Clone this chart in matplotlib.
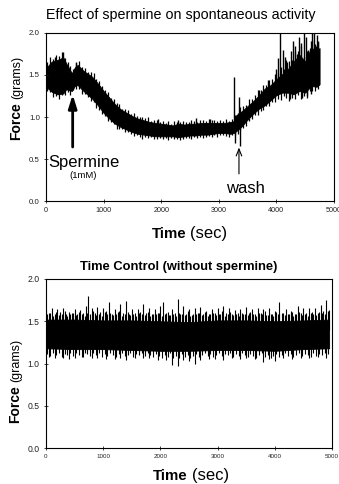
import matplotlib
matplotlib.use("Agg")
import matplotlib.pyplot as plt
import numpy as np

plt.rcParams['font.family'] = ['Liberation Sans', 'DejaVu Sans']

top_t = [0, 100, 200, 300, 350, 450, 500, 550, 650, 800, 900, 1000, 1100, 1200, 1300, 1400,
         1500, 1600, 1700, 1800, 1900, 2000, 2100, 2200, 2300, 2400, 2500, 2600, 2700, 2800,
         2900, 3000, 3100, 3200, 3260, 3300, 3400, 3500, 3600, 3700, 3800, 3900, 4000, 4100,
         4200, 4300, 4400, 4500, 4600, 4700, 4750]
top_upper = [1.58, 1.66, 1.68, 1.71, 1.64, 1.52, 1.59, 1.62, 1.55, 1.48, 1.40, 1.31, 1.23, 1.15, 1.09, 1.05,
             1.01, 0.98, 0.96, 0.94, 0.93, 0.92, 0.91, 0.90, 0.92, 0.91, 0.92, 0.92, 0.93, 0.93,
             0.93, 0.93, 0.93, 0.94, 0.95, 1.02, 1.07, 1.13, 1.19, 1.26, 1.34, 1.38, 1.45, 1.51,
             1.57, 1.66, 1.74, 1.66, 1.82, 1.80, 1.82]
top_lower = [1.36, 1.30, 1.27, 1.28, 1.33, 1.31, 1.37, 1.38, 1.31, 1.22, 1.14, 1.05, 0.98, 0.92, 0.88, 0.85,
             0.82, 0.80, 0.79, 0.78, 0.77, 0.77, 0.77, 0.77, 0.76, 0.77, 0.78, 0.78, 0.79, 0.79,
             0.80, 0.81, 0.81, 0.80, 0.81, 0.83, 0.89, 0.97, 1.04, 1.10, 1.14, 1.20, 1.26, 1.29,
             1.29, 1.27, 1.31, 1.29, 1.37, 1.36, 1.39]
top_spike_t = [150, 300, 520, 1950, 2300, 2600, 2850, 3270, 3280, 3350, 3360, 3700, 3850, 4000,
               4030, 4070, 4120, 4150, 4180, 4230, 4250, 4280, 4330, 4360, 4400, 4420, 4440, 4480,
               4520, 4525, 4550, 4600, 4605, 4620, 4650, 4680, 4700, 4730]
top_spike_v = [1.72, 1.77, 1.66, 0.98, 0.96, 0.99, 0.98, 1.48, 0.69, 1.24, 0.65, 1.32, 1.44, 1.57,
               1.70, 2.00, 1.80, 1.72, 1.65, 1.21, 1.78, 1.90, 1.85, 1.75, 1.95, 1.88, 1.23, 2.00,
               1.95, 1.25, 1.80, 1.90, 1.27, 2.00, 2.00, 1.85, 1.98, 1.90]
# fringe (noise) amplitudes above / below the band, every 50 s from 25 s
top_fringe_up = [0.05, 0.08, 0.03, 0.06, 0.04, 0.07, 0.03, 0.05, 0.06, 0.02, 0.04, 0.06, 0.03, 0.05, 0.02, 0.04, 0.06, 0.03, 0.05, 0.04,
                 0.03, 0.05, 0.02, 0.04, 0.03, 0.05, 0.02, 0.03, 0.04, 0.02, 0.05, 0.03, 0.02, 0.04, 0.03, 0.05, 0.02, 0.03, 0.04, 0.02,
                 0.03, 0.02, 0.04, 0.02, 0.05, 0.03, 0.02, 0.04, 0.03, 0.02, 0.05, 0.03, 0.02, 0.04, 0.03, 0.02, 0.05, 0.03, 0.04, 0.02,
                 0.03, 0.02, 0.04, 0.02, 0.03, 0.05, 0.02, 0.06, 0.04, 0.03, 0.07, 0.04, 0.05, 0.08, 0.04, 0.06, 0.03, 0.07, 0.05, 0.08,
                 0.06, 0.10, 0.05, 0.12, 0.08, 0.04, 0.10, 0.06, 0.12, 0.05, 0.09, 0.04, 0.10, 0.06, 0.08]
top_fringe_dn = [0.04, 0.02, 0.05, 0.03, 0.06, 0.02, 0.04, 0.03, 0.05, 0.02, 0.04, 0.03, 0.05, 0.02, 0.03, 0.04, 0.02, 0.05, 0.03, 0.04,
                 0.02, 0.04, 0.03, 0.02, 0.05, 0.03, 0.02, 0.04, 0.02, 0.03, 0.04, 0.02, 0.03, 0.05, 0.02, 0.03, 0.02, 0.04, 0.03, 0.02,
                 0.03, 0.02, 0.04, 0.02, 0.03, 0.02, 0.04, 0.03, 0.02, 0.03, 0.04, 0.02, 0.03, 0.02, 0.04, 0.03, 0.02, 0.03, 0.02, 0.04,
                 0.03, 0.02, 0.03, 0.04, 0.02, 0.03, 0.05, 0.03, 0.04, 0.06, 0.04, 0.05, 0.03, 0.06, 0.04, 0.05, 0.03, 0.06, 0.04, 0.07,
                 0.05, 0.08, 0.04, 0.06, 0.10, 0.05, 0.07, 0.04, 0.09, 0.05, 0.08, 0.04, 0.06, 0.05, 0.04]

# ---------------- Bottom panel: time control
bot_t = [0, 500, 1000, 1500, 2000, 2500, 3000, 3500, 4000, 4500, 4950]
bot_upper = [1.52, 1.52, 1.51, 1.51, 1.50, 1.49, 1.51, 1.51, 1.50, 1.51, 1.52]
bot_lower = [1.18, 1.17, 1.17, 1.16, 1.15, 1.15, 1.16, 1.16, 1.15, 1.17, 1.18]
bot_up_t = [0, 50, 100, 150, 200, 250, 300, 350, 400, 450, 500, 550, 600, 650, 700, 743, 800, 850,
            900, 950, 1000, 1050, 1100, 1150, 1200, 1250, 1300, 1350, 1400, 1450, 1500, 1550, 1600,
            1650, 1700, 1750, 1800, 1850, 1900, 1950, 2000, 2050, 2100, 2150, 2200, 2250, 2300, 2350,
            2400, 2450, 2500, 2550, 2600, 2650, 2700, 2750, 2800, 2850, 2900, 2950, 3000, 3050, 3100,
            3150, 3200, 3250, 3300, 3350, 3400, 3450, 3500, 3550, 3600, 3650, 3700, 3750, 3800, 3850,
            3900, 3950, 4000, 4050, 4080, 4150, 4200, 4250, 4300, 4350, 4400, 4450, 4500, 4550, 4600,
            4650, 4700, 4750, 4800, 4850, 4900, 4950]
bot_up_v = [1.63, 1.60, 1.66, 1.59, 1.64, 1.61, 1.66, 1.58, 1.61, 1.60, 1.65, 1.59, 1.63, 1.60, 1.68,
            1.80, 1.66, 1.60, 1.67, 1.61, 1.66, 1.62, 1.73, 1.58, 1.64, 1.61, 1.71, 1.60, 1.74, 1.59,
            1.64, 1.60, 1.65, 1.61, 1.71, 1.60, 1.66, 1.58, 1.64, 1.60, 1.68, 1.73, 1.60, 1.57, 1.64,
            1.60, 1.76, 1.59, 1.68, 1.58, 1.65, 1.57, 1.66, 1.60, 1.67, 1.58, 1.62, 1.59, 1.65, 1.60,
            1.66, 1.58, 1.68, 1.60, 1.66, 1.59, 1.63, 1.60, 1.65, 1.58, 1.67, 1.60, 1.64, 1.58, 1.66,
            1.60, 1.64, 1.57, 1.66, 1.59, 1.62, 1.58, 1.73, 1.60, 1.64, 1.58, 1.61, 1.59, 1.68, 1.60,
            1.66, 1.60, 1.66, 1.61, 1.66, 1.60, 1.69, 1.62, 1.75, 1.63]
bot_up2_v = [1.58, 1.60, 1.56, 1.61, 1.57, 1.59, 1.62, 1.56, 1.58, 1.60,
             1.57, 1.61, 1.59, 1.56, 1.60, 1.58, 1.62, 1.57, 1.59, 1.56,
             1.61, 1.58, 1.60, 1.57, 1.59, 1.62, 1.56, 1.58, 1.61, 1.57,
             1.59, 1.56, 1.60, 1.58, 1.57, 1.61, 1.56, 1.59, 1.58, 1.60,
             1.56, 1.58, 1.61, 1.57, 1.59, 1.56, 1.60, 1.58, 1.57, 1.62,
             1.56, 1.59, 1.58, 1.60, 1.57, 1.61, 1.56, 1.58, 1.60, 1.57,
             1.59, 1.62, 1.56, 1.58, 1.61, 1.57, 1.59, 1.56, 1.60, 1.58,
             1.57, 1.61, 1.59, 1.56, 1.60, 1.58, 1.62, 1.57, 1.59, 1.56,
             1.61, 1.58, 1.60, 1.57, 1.59, 1.62, 1.56, 1.58, 1.61, 1.57,
             1.59, 1.56, 1.60, 1.58, 1.57, 1.61, 1.60, 1.59, 1.62]
bot_dn_t = [50, 150, 300, 400, 500, 650, 800, 900, 1050, 1200, 1300, 1400, 1550, 1700, 1800, 1950,
            2100, 2200, 2300, 2400, 2500, 2600, 2700, 2850, 2950, 3100, 3250, 3400, 3500, 3650, 3800,
            3900, 4000, 4150, 4300, 4450, 4600, 4750, 4900]
bot_dn_v = [1.08, 1.06, 1.07, 1.05, 1.06, 1.08, 1.06, 1.07, 1.05, 1.05, 1.07, 1.04, 1.06, 1.06, 1.07,
            1.04, 1.04, 0.98, 0.97, 1.04, 1.03, 1.00, 1.04, 1.05, 1.05, 1.04, 1.06, 1.05, 1.06, 1.05,
            1.02, 1.05, 1.03, 1.06, 1.05, 1.06, 1.07, 1.08, 1.07]
bot_dn2_v = [1.11, 1.09, 1.12, 1.10, 1.13, 1.08, 1.11, 1.10, 1.12, 1.09,
             1.13, 1.10, 1.08, 1.12, 1.11, 1.09, 1.13, 1.10, 1.12, 1.08,
             1.11, 1.09, 1.12, 1.10, 1.08, 1.11, 1.13, 1.09, 1.10, 1.12,
             1.08, 1.11, 1.10, 1.13, 1.09, 1.12, 1.10, 1.08, 1.11, 1.09,
             1.07, 1.10, 1.08, 1.12, 1.06, 1.09, 1.07, 1.11, 1.08, 1.10,
             1.07, 1.09, 1.11, 1.08, 1.10, 1.12, 1.09, 1.11, 1.08, 1.10,
             1.12, 1.09, 1.11, 1.10, 1.13, 1.08, 1.11, 1.09, 1.12, 1.10,
             1.08, 1.11, 1.09, 1.07, 1.10, 1.12, 1.08, 1.10, 1.06, 1.09,
             1.11, 1.08, 1.10, 1.12, 1.09, 1.11, 1.08, 1.10, 1.12, 1.09,
             1.11, 1.10, 1.08, 1.12, 1.09, 1.11, 1.10, 1.12, 1.11]

x_ticks = [0, 1000, 2000, 3000, 4000, 5000]
y_ticks = [0.0, 0.5, 1.0, 1.5, 2.0]

W, H = 339, 484
fig = plt.figure(figsize=(W / 100, H / 100), dpi=100)

def axpos(l, t, r, b):
    return [l / W, 1 - b / H, (r - l) / W, (b - t) / H]

ax1 = fig.add_axes(axpos(46, 33, 334, 201))
ax2 = fig.add_axes(axpos(46, 279, 332, 448))

def style(ax, xfs, yfs):
    ax.set_xlim(0, 5000)
    ax.set_ylim(0, 2.0)
    ax.set_xticks(x_ticks)
    ax.set_yticks(y_ticks)
    ax.set_xticklabels([str(v) for v in x_ticks], fontsize=xfs)
    ax.set_yticklabels([f"{v:.1f}" for v in y_ticks], fontsize=yfs)
    ax.tick_params(direction='inout', length=3, width=0.6, pad=3, colors='#222222')
    for s in ax.spines.values():
        s.set_linewidth(0.8)

# top band
ax1.fill_between(top_t, top_lower, top_upper, color='black', lw=0.6, edgecolor='black')
ft = np.arange(25, 4750, 50)
up_env = np.interp(ft, top_t, top_upper)
lo_env = np.interp(ft, top_t, top_lower)
ax1.vlines(ft, up_env - 0.05, up_env + np.array(top_fringe_up), color='black', lw=0.9)
ax1.vlines(ft, lo_env - np.array(top_fringe_dn), lo_env + 0.05, color='black', lw=0.9)
mid = np.interp(top_spike_t, top_t, [(a + b) / 2 for a, b in zip(top_upper, top_lower)])
ax1.vlines(top_spike_t, mid, top_spike_v, color='black', lw=1.0)
style(ax1, 5.2, 5.7)
fig.text(181 / W, 1 - 15 / H, "Effect of spermine on spontaneous activity", fontsize=10.3,
         ha='center', va='center')

ax1.annotate('', xy=(463, 1.30), xytext=(463, 0.61),
             arrowprops=dict(arrowstyle='-|>,head_width=0.25,head_length=0.8', color='black', lw=2.0))
ax1.annotate('', xy=(3350, 0.67), xytext=(3350, 0.29),
             arrowprops=dict(arrowstyle='->,head_width=0.2,head_length=0.5', color='black', lw=0.8))
ax1.text(660, 0.46, "Spermine", fontsize=12, ha='center', va='center')
ax1.text(645, 0.30, "(1mM)", fontsize=6.8, ha='center', va='center')
ax1.text(3455, 0.15, "wash", fontsize=12, ha='center', va='center')

# bottom band
ax2.fill_between(bot_t, bot_lower, bot_upper, color='black', lw=0.6, edgecolor='black')
ft2 = np.arange(25, 4950, 50)
ax2.vlines(bot_up_t, 1.4, bot_up_v, color='black', lw=0.8)
ax2.vlines(ft2, 1.4, bot_up2_v, color='black', lw=0.8)
ax2.vlines(bot_dn_t, bot_dn_v, 1.3, color='black', lw=0.8)
ax2.vlines(ft2, bot_dn2_v, 1.3, color='black', lw=0.8)
style(ax2, 4.5, 6.2)
fig.text(178.5 / W, 1 - 267 / H, "Time Control (without spermine)", fontsize=9.3,
         fontweight='bold', ha='center', va='center')

# axis labels with mixed weight
def ylab(x, y_force_bottom, y_grams_bottom):
    fig.text(x / W, 1 - y_force_bottom / H, "Force", rotation=90, fontsize=10, fontweight='bold',
             ha='left', va='baseline', rotation_mode='anchor')
    fig.text(x / W, 1 - y_grams_bottom / H, "(grams)", rotation=90, fontsize=9,
             ha='left', va='baseline', rotation_mode='anchor')

def xlab(x_time, x_sec, y):
    fig.text(x_time / W, 1 - y / H, "Time", fontsize=10.8, fontweight='bold', ha='left', va='baseline')
    fig.text(x_sec / W, 1 - y / H, "(sec)", fontsize=12, ha='left', va='baseline')

ylab(20, 140, 99)
ylab(19, 423, 382)
xlab(152, 190, 238)
xlab(153, 192, 480)

fig.savefig("out.png", dpi=100)
